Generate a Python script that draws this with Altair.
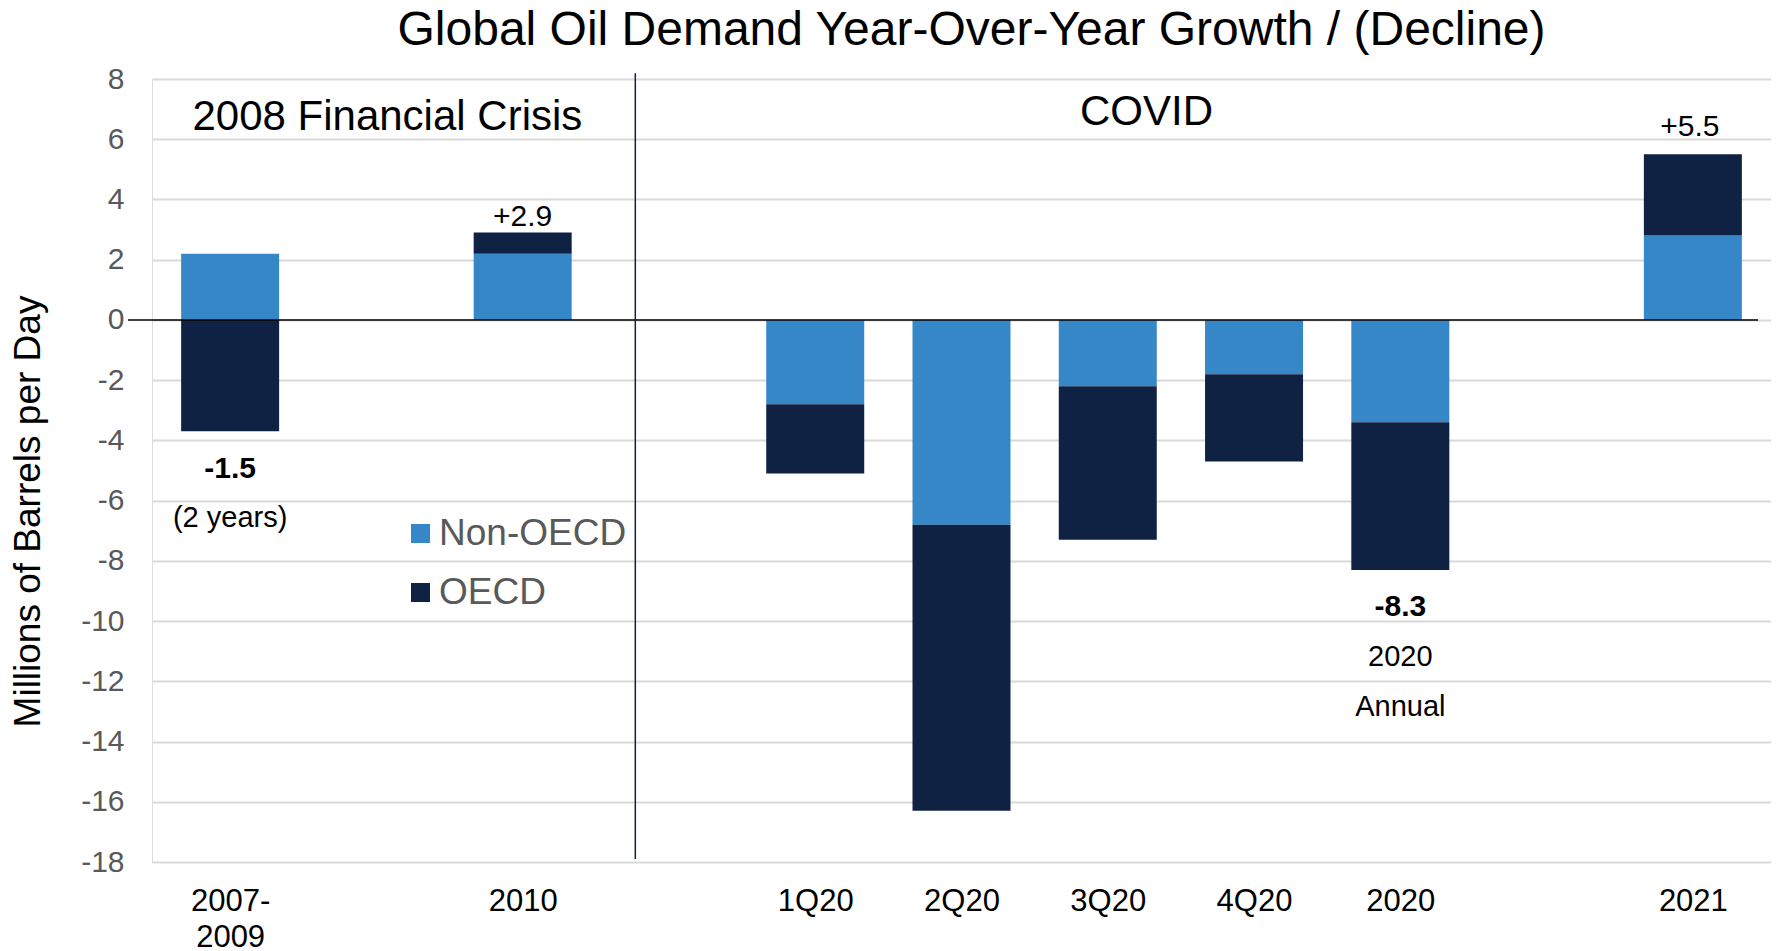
import altair as alt
import pandas as pd

# ---------------- data ----------------
title_text = "Global Oil Demand Year-Over-Year Growth / (Decline)"
categories = ["2007-\n2009", "2010", "1Q20", "2Q20", "3Q20", "4Q20", "2020", "2021"]
positions = [0, 2, 4, 5, 6, 7, 8, 10]
non_oecd = [2.2, 2.2, -2.8, -6.8, -2.2, -1.8, -3.4, 2.8]
oecd = [-3.7, 0.7, -2.3, -9.5, -5.1, -2.9, -4.9, 2.7]
series = ["Non-OECD", "OECD"]
colors = ["#3587C8", "#102244"]
y_ticks = list(range(-18, 9, 2))

# annotations: text, x (category position), y (value)
ann_text = ["2008 Financial Crisis", "COVID", "+2.9", "+5.5", "(2 years)", "2020", "Annual"]
ann_x = [1.075, 6.265, 2.0, 9.98, 0.0, 8.0, 8.0]
ann_y = [6.31, 6.47, 3.13, 6.11, -6.87, -11.48, -13.14]
ann_size = [42, 42, 30, 30, 29, 29, 29]
bold_text = ["-1.5", "-8.3"]
bold_x = [0.0, 8.0]
bold_y = [-5.25, -9.82]

divider_x = 2.77
divider_y = [8.19, -17.9]

FONT = "Liberation Sans"
W, H = 1619, 783

rows = []
for c, p, n, o in zip(categories, positions, non_oecd, oecd):
    rows.append({"cat": c, "pos": p, "series": "Non-OECD", "ord": 0, "value": n})
    rows.append({"cat": c, "pos": p, "series": "OECD", "ord": 1, "value": o})
df = pd.DataFrame(rows)

ann_df = pd.DataFrame({"text": ann_text, "x": ann_x, "y": ann_y, "size": ann_size})
bold_df = pd.DataFrame({"text": bold_text, "x": bold_x, "y": bold_y})

def js_label(c):
    parts = c.split("\n")
    if len(parts) > 1:
        return "[" + ",".join("'" + s + "'" for s in parts) + "]"
    return "'" + c + "'"

label_expr = ""
for p, c in zip(positions, categories):
    label_expr += f"datum.value == {p} ? {js_label(c)} : "
label_expr += "''"

xscale = alt.Scale(domain=[-0.5, 10.5], nice=False, zero=False)
yscale = alt.Scale(domain=[-18, 8], nice=False, zero=False)

x_axis = alt.Axis(
    values=positions, labelExpr=label_expr, grid=False, domain=False, ticks=False,
    labelFontSize=31, labelColor="black", labelFont=FONT, labelPadding=24,
    labelLineHeight=36, labelFlush=False, labelOverlap=False, title=None,
)
y_axis = alt.Axis(
    values=y_ticks, labelExpr="datum.value + ''", grid=True, gridColor="#d9d9d9",
    gridWidth=2, domain=False, ticks=False, labelFontSize=30, labelColor="#595959",
    labelFont=FONT, labelPadding=28, title="Millions of Barrels per Day",
    titleFontSize=37, titleFont=FONT, titleFontWeight="normal", titleColor="black",
    titleAngle=270, titleX=-124, titleY=432, titleAlign="center", titleBaseline="middle",
)

bars = alt.Chart(df).mark_bar(size=98).encode(
    x=alt.X("pos:Q", scale=xscale, axis=x_axis),
    y=alt.Y("value:Q", stack="zero", scale=yscale, axis=y_axis),
    color=alt.Color(
        "series:N",
        scale=alt.Scale(domain=series, range=colors),
        legend=alt.Legend(
            title=None, orient="none", legendX=250, legendY=436, symbolType="square",
            symbolSize=361, symbolStrokeWidth=0, labelFontSize=37, labelColor="#595959",
            labelFont=FONT, labelOffset=0, rowPadding=21, padding=0, labelLimit=500,
        ),
    ),
    order=alt.Order("ord:Q", sort="ascending"),
)

zero_line = alt.Chart(pd.DataFrame({"v": [0]})).mark_rule(color="black", strokeWidth=1.5).encode(
    y=alt.Y("v:Q", scale=yscale), x=alt.value(-24), x2=alt.value(W - 13)
)

divider = alt.Chart(pd.DataFrame({"x": [divider_x], "y": [divider_y[0]], "y2": [divider_y[1]]})).mark_rule(
    color="#102244", strokeWidth=1.5
).encode(
    x=alt.X("x:Q", scale=xscale), y=alt.Y("y:Q", scale=yscale), y2="y2:Q"
)

ann = alt.Chart(ann_df).mark_text(font=FONT, color="black", baseline="alphabetic", align="center").encode(
    x=alt.X("x:Q", scale=xscale), y=alt.Y("y:Q", scale=yscale),
    text="text:N", size=alt.Size("size:Q", scale=None, legend=None),
)

bold = alt.Chart(bold_df).mark_text(
    font=FONT, color="black", baseline="alphabetic", align="center", fontWeight="bold", fontSize=30
).encode(
    x=alt.X("x:Q", scale=xscale), y=alt.Y("y:Q", scale=yscale), text="text:N"
)

title = alt.Chart(pd.DataFrame({"t": [title_text]})).mark_text(
    font=FONT, color="black", baseline="alphabetic", align="center", fontSize=48
).encode(text="t:N", x=alt.value(W / 2 + 10), y=alt.value(-34))

chart = alt.layer(bars, zero_line, divider, ann, bold, title).properties(
    width=W, height=H,
    autosize=alt.AutoSizeParams(type="none"),
    padding={"left": 144, "top": 71, "right": 0, "bottom": 88},
).configure_view(stroke=None).configure(background="white")

chart.save("out.html", embed_options={"renderer": "svg", "actions": False})
